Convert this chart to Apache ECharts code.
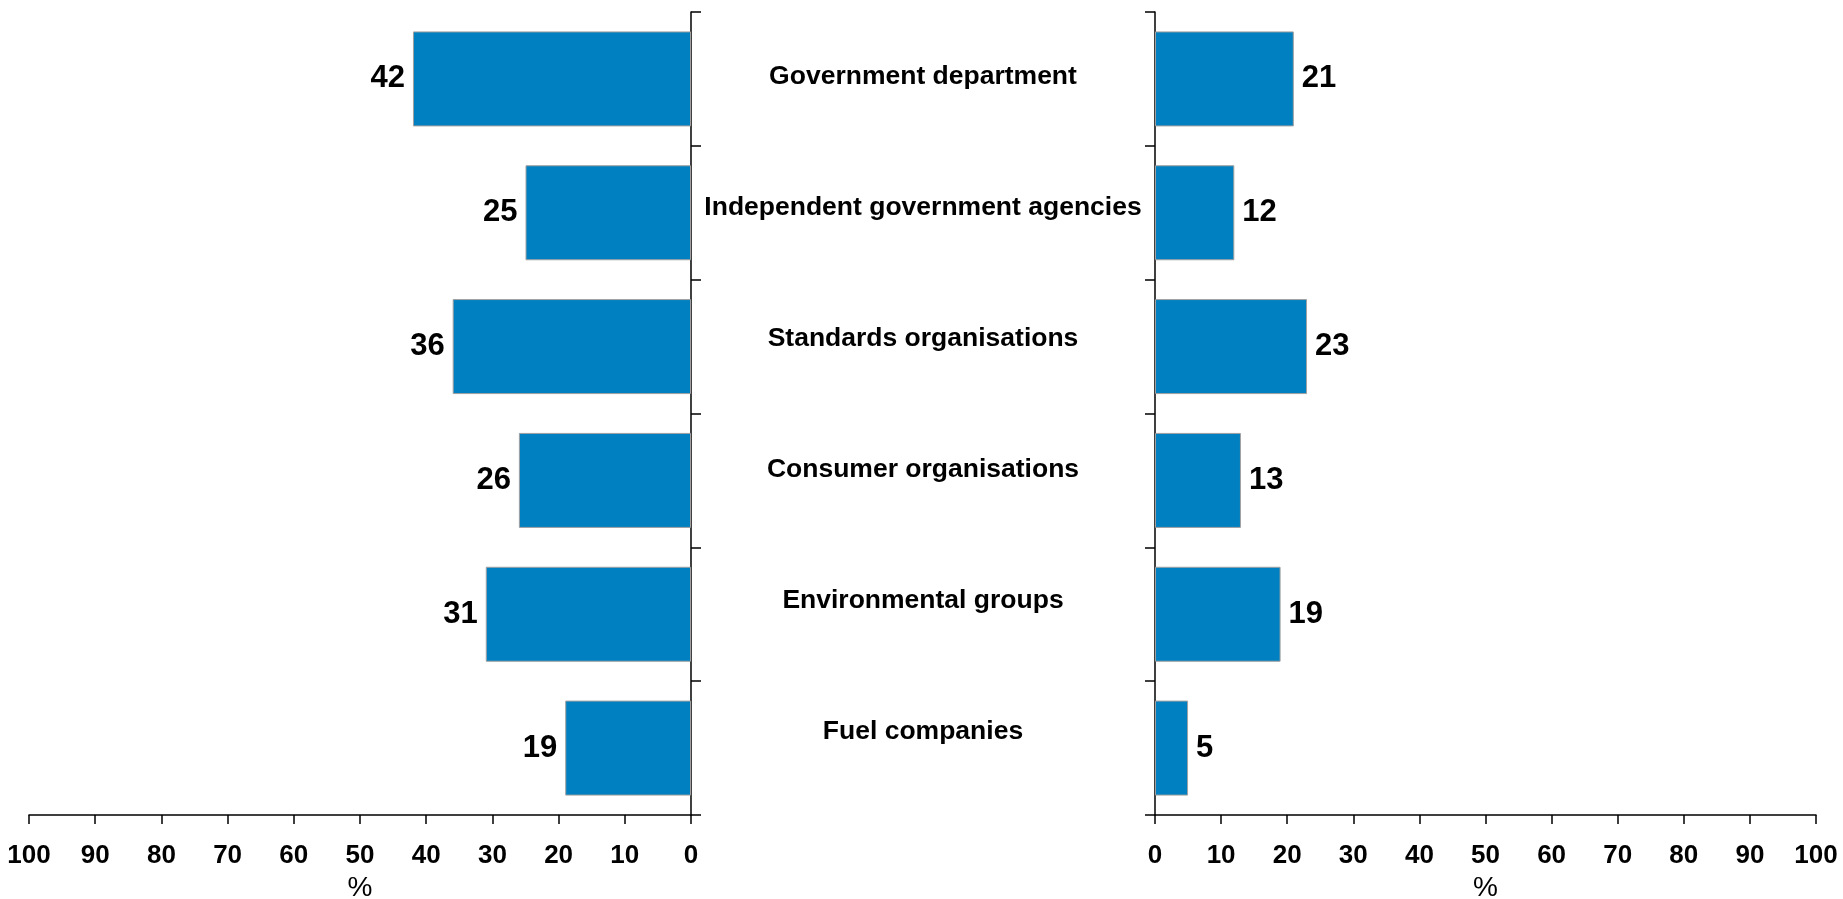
<!DOCTYPE html>
<html>
<head>
<meta charset="utf-8">
<title>Butterfly bar chart</title>
<script src="https://cdn.jsdelivr.net/npm/echarts@6/dist/echarts.min.js"></script>
<style>
  html, body { margin: 0; padding: 0; background: #ffffff; }
  #chart { width: 1843px; height: 899px; }
</style>
</head>
<body>
<div id="chart"></div>
<script>
// Organisation types, top to bottom
const categories = [
  'Government department',
  'Independent government agencies',
  'Standards organisations',
  'Consumer organisations',
  'Environmental groups',
  'Fuel companies'
];

// Percentages shown on the left-hand panel
const leftValues = [42, 25, 36, 26, 31, 19];
// Percentages shown on the right-hand panel
const rightValues = [21, 12, 23, 13, 19, 5];

// Percentage scale shared by both panels
const scaleMin = 0;
const scaleMax = 100;
const scaleStep = 10;
const axisTitle = '%';

const FONT = '"Liberation Sans", Arial, Helvetica, sans-serif';
const BAR_COLOR = '#0080C0';
const LINE = { color: '#000000', width: 1.5 };

function valueAxis(gridIndex, inverse) {
  return {
    type: 'value',
    gridIndex: gridIndex,
    inverse: inverse,
    min: scaleMin,
    max: scaleMax,
    interval: scaleStep,
    name: axisTitle,
    nameLocation: 'middle',
    nameGap: 56,
    nameTextStyle: { fontFamily: FONT, fontSize: 28, color: '#000' },
    splitLine: { show: false },
    axisLine: { show: true, lineStyle: LINE },
    axisTick: { show: true, length: 9, lineStyle: LINE },
    axisLabel: {
      margin: 28,
      fontFamily: FONT,
      fontSize: 26,
      fontWeight: 'bold',
      color: '#000'
    }
  };
}

function categoryAxis(gridIndex, position) {
  return {
    type: 'category',
    gridIndex: gridIndex,
    position: position,
    inverse: true,
    data: categories,
    axisLine: { show: true, onZero: false, lineStyle: LINE },
    axisTick: { show: true, length: 10, lineStyle: LINE },
    axisLabel: { show: false },
    splitLine: { show: false }
  };
}

function barSeries(axisIndex, values, labelPos) {
  return {
    type: 'bar',
    xAxisIndex: axisIndex,
    yAxisIndex: axisIndex,
    data: values,
    barWidth: 95,
    itemStyle: {
      color: BAR_COLOR,
      borderColor: '#a0a0a0',
      borderWidth: 1
    },
    label: {
      show: true,
      position: labelPos,
      distance: 8,
      fontFamily: FONT,
      fontSize: 31,
      fontWeight: 'bold',
      color: '#000'
    },
    emphasis: { disabled: true },
    animation: false
  };
}

const chart = echarts.init(document.getElementById('chart'), null, { renderer: 'canvas' });

const option = {
  backgroundColor: '#ffffff',
  animation: false,
  grid: [
    // left panel: bars grow leftwards from 0
    { left: 29, right: 1152, top: 12, bottom: 84, containLabel: false, outerBoundsMode: 'none' },
    // right panel: bars grow rightwards from 0
    { left: 1155, right: 27, top: 12, bottom: 84, containLabel: false, outerBoundsMode: 'none' },
    // centre column holding the category names
    { left: 691, right: 688, top: 11.5, bottom: 101.5, containLabel: false, outerBoundsMode: 'none' }
  ],
  xAxis: [
    valueAxis(0, true),
    valueAxis(1, false),
    { type: 'value', gridIndex: 2, show: false, min: 0, max: 1 }
  ],
  yAxis: [
    categoryAxis(0, 'right'),
    categoryAxis(1, 'left'),
    {
      type: 'category',
      gridIndex: 2,
      position: 'left',
      inverse: true,
      data: categories,
      axisLine: { show: false },
      axisTick: { show: false },
      splitLine: { show: false },
      axisLabel: {
        show: true,
        align: 'center',
        margin: -232,
        fontFamily: FONT,
        fontSize: 26.5,
        fontWeight: 'bold',
        color: '#000'
      }
    }
  ],
  series: [
    barSeries(0, leftValues, 'left'),
    barSeries(1, rightValues, 'right'),
    {
      type: 'bar',
      xAxisIndex: 2,
      yAxisIndex: 2,
      data: [],
      silent: true
    }
  ]
};

chart.setOption(option);
</script>
</body>
</html>
